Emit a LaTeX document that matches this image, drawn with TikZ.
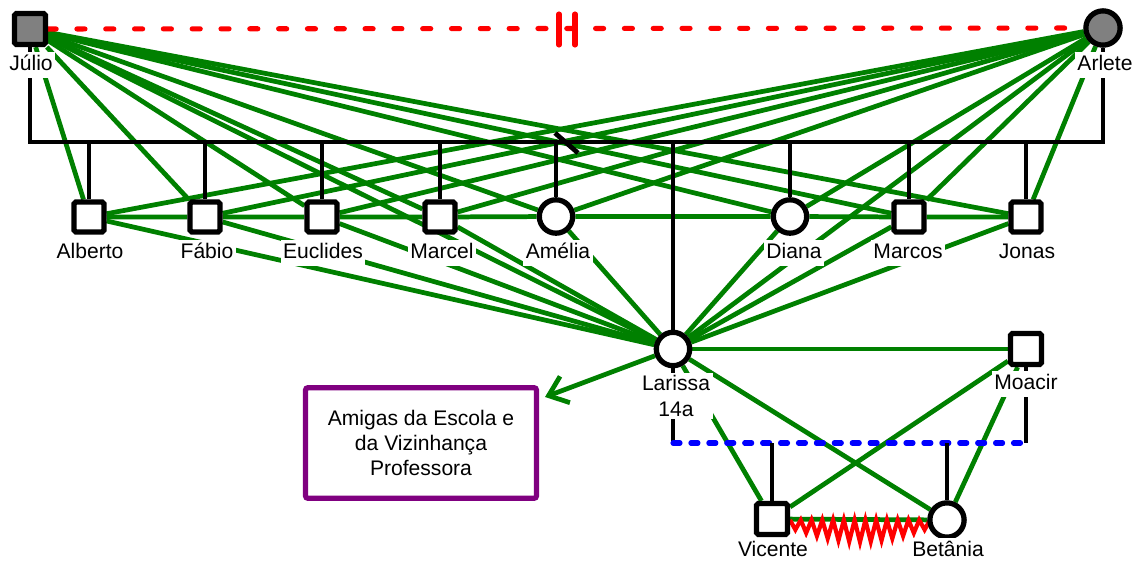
\documentclass[tikz,border=0pt]{standalone}
\usepackage{fontspec}
\setmainfont{Liberation Sans}
\usetikzlibrary{arrows.meta}
\definecolor{rgreen}{RGB}{0,128,0}
\definecolor{rpurple}{RGB}{128,0,128}
\definecolor{rgray}{RGB}{128,128,128}
\definecolor{rblue}{RGB}{0,0,255}
\definecolor{rred}{RGB}{255,0,0}
\pgfdeclarelayer{greenlayer}
\pgfdeclarelayer{kinlayer}
\pgfsetlayers{greenlayer,kinlayer,main}
\begin{document}
\begin{tikzpicture}[x=0.02cm,y=-0.02cm,
  male/.style={draw=black,line width=3pt,fill=white,minimum size=17pt,inner sep=0pt,rounded corners=1pt},
  female/.style={draw=black,line width=3pt,fill=white,circle,minimum size=19pt,inner sep=0pt},
  lbl/.style={fill=white,inner sep=1.5pt,font=\fontsize{12}{14}\selectfont,text height=9pt,text depth=2.5pt},
  lbltwo/.style={fill=white,inner sep=1.5pt,font=\fontsize{12}{14.5}\selectfont,align=center},
  rel/.style={draw=rgreen,line width=2.7pt},
  kin/.style={draw=black,line width=2.7pt},
  sepline/.style={draw=rred,line width=2.9pt,line cap=round,dash pattern=on 4.6pt off 11.8pt},
  bluedash/.style={draw=rblue,line width=2.9pt,line cap=round,dash pattern=on 4pt off 6.2pt},
  divmark/.style={draw=rred,line width=2.9pt,line cap=round},
  zig/.style={draw=rred,line width=2.4pt,line join=miter},
  friendbox/.style={draw=rpurple,line width=3pt,fill=white,rounded corners=1.5pt,minimum width=131.5pt,minimum height=63pt,align=center,font=\fontsize{12}{14.2}\selectfont}
]
\useasboundingbox (0,0) rectangle (1144,565);

% people
\node[male,minimum size=17.6pt,fill=rgray] (jul) at (30,29) {};
\node[female,minimum size=19.5pt,fill=rgray] (arl) at (1103,28) {};
\node[male] (alb) at (89,217) {};
\node[male] (fab) at (205,217) {};
\node[male] (euc) at (322,217) {};
\node[male] (mar) at (440,217) {};
\node[female] (ame) at (556,216.5) {};
\node[female] (dia) at (790,216.5) {};
\node[male] (mrc) at (909,217) {};
\node[male] (jon) at (1026,217) {};
\node[female] (lar) at (673,349) {};
\node[male,minimum size=17.6pt] (moa) at (1026,349) {};
\node[male,minimum size=17.6pt] (vic) at (772,519) {};
\node[female,minimum size=19.5pt] (bet) at (947,520) {};

\coordinate (sibL) at (30,142);
\coordinate (sibR) at (1103,142);
\coordinate (cplL) at (673,443);
\coordinate (cplR) at (1026,443);
\coordinate (arrtip) at (545,397);

% green relations
\begin{pgfonlayer}{greenlayer}
\foreach \c in {alb,fab,euc,mar,ame,dia,mrc,jon,lar}{
  \draw[rel] (jul) -- (\c);
  \draw[rel] (arl) -- (\c);
}
\foreach \c in {alb,fab,euc,mar,ame,dia,mrc,jon,moa,vic,bet}{
  \draw[rel] (lar) -- (\c);
}
\draw[rel] (alb) -- (fab) -- (euc) -- (mar) -- (ame) -- (dia) -- (mrc) -- (jon);
\draw[rel] (moa) -- (vic);
\draw[rel] (moa) -- (bet);
\draw[rel] (vic) -- (bet);
\draw[rel,-{Straight Barb[length=10pt,width=16pt]}] (lar) -- (arrtip);
\end{pgfonlayer}

\begin{pgfonlayer}{kinlayer}
% conflict zigzag between Vicente and Betania
\draw[zig] plot[samples at={0,...,26}] ({790+\x*140/26},{ifthenelse(mod(\x,2)==0,520,528+14*sin(180*\x/26))});
% separation
\draw[sepline] (jul) -- (arl);
\draw[divmark] (559,14) -- (559,45);
\draw[divmark] (575,14) -- (575,45);
% kinship lines
\draw[kin] (jul.south) -- (sibL) -- (sibR) -- (arl.south);
\foreach \c in {alb,fab,euc,mar,ame,dia,mrc,jon,lar}{
  \draw[kin] (\c.north |- sibL) -- (\c.north);
}
\draw[kin] (555,133) -- (578,153);
\draw[kin] (lar.south) -- (cplL);
\draw[kin] (moa.south) -- (cplR);
\draw[bluedash] (cplL) -- (cplR);
\draw[kin] (vic.north |- cplL) -- (vic.north);
\draw[kin] (bet.north |- cplL) -- (bet.north);
\end{pgfonlayer}

% labels
\node[lbl] (julL) at (31,65) {Júlio};
\node[lbl] (arlL) at (1105,65) {Arlete};
\node[lbl] (albL) at (90,253) {Alberto};
\node[lbl] (fabL) at (207,253) {Fábio};
\node[lbl] (eucL) at (323,253) {Euclides};
\node[lbl] (marL) at (442,253) {Marcel};
\node[lbl] (ameL) at (558,253) {Amélia};
\node[lbl] (diaL) at (794,253) {Diana};
\node[lbl] (mrcL) at (908,253) {Marcos};
\node[lbl] (jonL) at (1027,253) {Jonas};
\node[lbltwo] (larL) at (676,396) {Larissa\\14a};
\node[lbl] (moaL) at (1026,384) {Moacir};
\node[lbl] (vicL) at (773,551) {Vicente};
\node[lbl] (betL) at (948,551) {Betânia};

% box
\node[friendbox] (friends) at (421,443) {Amigas da Escola e\\da Vizinhança\\Professora};
\end{tikzpicture}
\end{document}
